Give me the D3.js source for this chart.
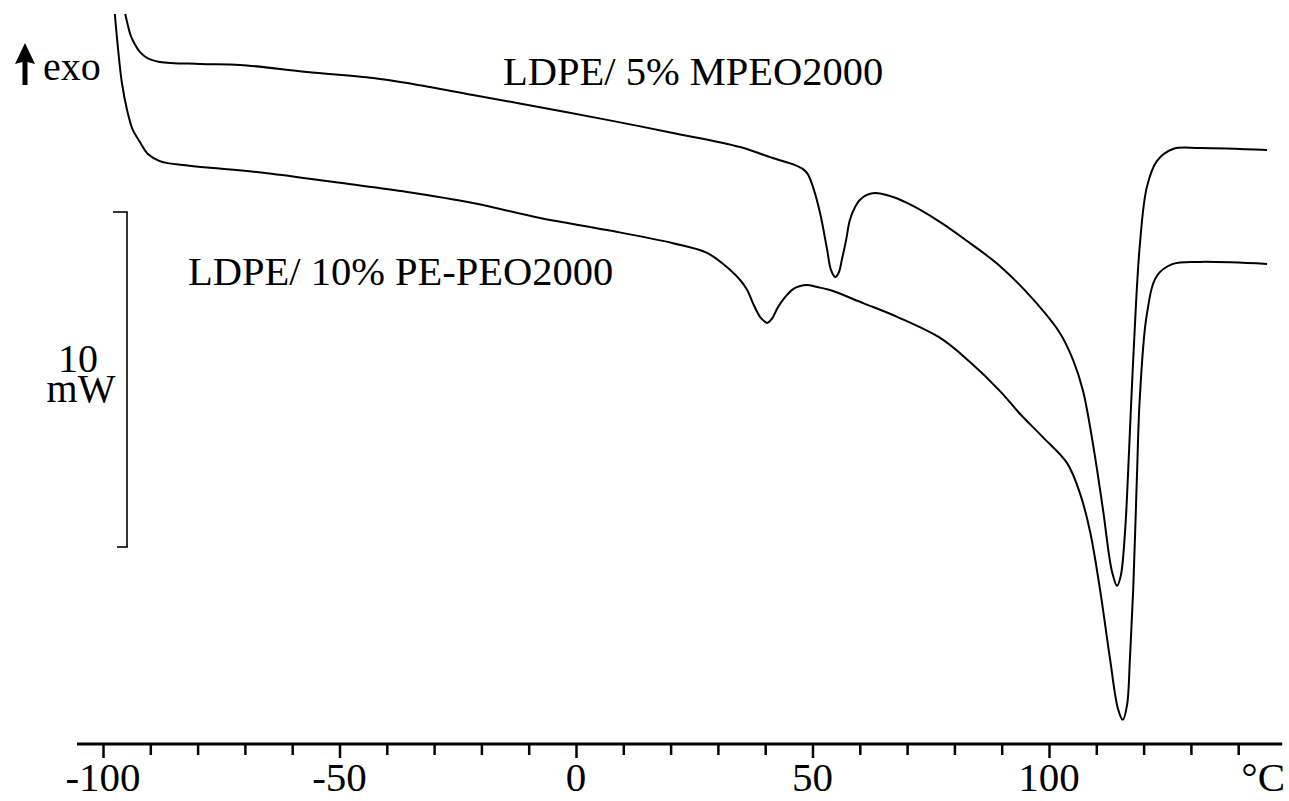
<!DOCTYPE html>
<html>
<head>
<meta charset="utf-8">
<script src="https://cdn.jsdelivr.net/npm/d3@7"></script>
<style>
  html, body { margin: 0; padding: 0; background: #fff; }
  svg { display: block; }
  text { font-family: "Liberation Serif", "Times New Roman", Times, serif; fill: #000; }
</style>
</head>
<body>
<svg id="chart" width="1289" height="801"></svg>
<script>
// ---- Data (temperature °C, heat flow mW, arbitrary offset) ----
const seriesNames = ["LDPE/ 5% MPEO2000", "LDPE/ 10% PE-PEO2000"];

const tempMPEO = [-95.3,-94.7,-94.1,-93.2,-92.2,-90.7,-88.0,-79.5,-71.0,-56.9,-42.9,-35.7,-21.8,-7.6,6.6,20.5,34.7,41.6,46.3,48.0,49.0,50.1,51.6,53.1,53.9,54.8,55.6,56.2,57.1,57.9,59.0,60.0,61.5,63.2,66.4,70.0,77.0,83.3,89.6,96.6,102.3,105.1,107.2,109.3,111.4,113.3,114.4,115.2,116.1,116.7,117.8,119.2,120.7,122.8,126.2,131.9,146.1];
const heatMPEO = [21.91,21.55,21.25,20.99,20.78,20.60,20.48,20.42,20.39,20.18,20.00,19.85,19.49,19.13,18.75,18.36,17.94,17.61,17.40,17.28,17.13,16.75,15.97,14.87,14.27,14.06,14.21,14.57,15.16,15.76,16.15,16.36,16.51,16.57,16.48,16.27,15.70,15.07,14.39,13.40,12.39,11.58,10.66,9.07,7.13,5.28,4.84,5.16,6.51,8.15,11.58,15.01,16.75,17.52,17.88,17.91,17.85];

const tempPEPEO = [-97.5,-96.8,-96.0,-94.9,-93.7,-92.2,-90.5,-88.0,-83.1,-65.3,-49.9,-35.7,-21.8,-7.6,6.6,20.5,27.7,32.6,34.7,36.2,37.4,38.9,40.0,40.4,41.4,42.7,44.2,45.9,47.4,48.8,51.0,53.7,60.7,67.9,77.0,83.3,89.6,93.9,98.7,103.8,106.6,108.7,110.8,112.9,114.6,115.6,116.5,117.1,117.8,118.6,119.2,120.7,122.8,126.2,131.9,146.1];
const heatPEPEO = [21.91,20.84,19.85,19.04,18.45,18.09,17.73,17.52,17.40,17.16,16.87,16.60,16.27,15.82,15.46,15.07,14.78,14.27,13.97,13.67,13.28,12.87,12.72,12.69,12.81,13.16,13.46,13.70,13.79,13.82,13.76,13.67,13.28,12.87,12.24,11.52,10.66,9.97,9.28,8.51,7.58,6.45,4.72,2.66,1.16,0.84,1.28,2.63,4.72,8.15,10.45,12.96,14.09,14.45,14.51,14.45];

const tickValues = d3.range(-100, 141, 10);
const tickLabels = ["-100", "-50", "0", "50", "100"];
const majorTicks = [-100, -50, 0, 50, 100];
const axisExtent = [-105.5, 149.3];
const scaleBar = [6, 16];          // 10 mW scale bar
const scaleBarLabel = ["10", "mW"];
const unitLabel = "°C";
const exoLabel = "exo";

// ---- Scales ----
const svg = d3.select("#chart");
const x = d3.scaleLinear().domain([-100, 100]).range([103, 1049]);
const y = d3.scaleLinear().domain([0, 22]).range([748, 748 - 22 * 33.5]);
const axisY = 744;

// ---- Curves ----
const line = d3.line()
  .x(d => x(d[0]))
  .y(d => y(d[1]))
  .curve(d3.curveCatmullRom.alpha(0.5));

const curves = [
  d3.zip(tempMPEO, heatMPEO),
  d3.zip(tempPEPEO, heatPEPEO)
];

svg.selectAll("path.curve")
  .data(curves)
  .enter().append("path")
  .attr("class", "curve")
  .attr("d", line)
  .attr("fill", "none")
  .attr("stroke", "#000")
  .attr("stroke-width", 2)
  .attr("stroke-linejoin", "round");

// ---- X axis ----
const gx = svg.append("g").attr("transform", `translate(0,${axisY})`);
gx.append("line")
  .attr("x1", x(axisExtent[0])).attr("x2", x(axisExtent[1]))
  .attr("y1", 0).attr("y2", 0)
  .attr("stroke", "#000").attr("stroke-width", 3);

const axis = d3.axisBottom(x).tickValues(tickValues).tickSize(12).tickFormat("");
const axG = gx.append("g").call(axis);
axG.select(".domain").remove();
axG.selectAll(".tick line")
  .attr("stroke", "#000")
  .attr("stroke-width", 2.5)
  .attr("y2", d => majorTicks.includes(d) ? 14 : 11);

gx.selectAll("text.tl")
  .data(majorTicks)
  .enter().append("text")
  .attr("class", "tl")
  .attr("text-anchor", "middle")
  .attr("x", d => x(d))
  .attr("y", 47)
  .attr("font-size", 41)
  .text((d, i) => tickLabels[i]);

gx.append("text")
  .attr("text-anchor", "end")
  .attr("x", 1285)
  .attr("y", 47)
  .attr("font-size", 41)
  .text(unitLabel);

// ---- Scale bar (10 mW) ----
const sbX = 127;
const sb = svg.append("g").attr("stroke", "#000").attr("stroke-width", 1.6).attr("fill", "none");
sb.append("line").attr("x1", sbX).attr("x2", sbX).attr("y1", y(scaleBar[1])).attr("y2", y(scaleBar[0]));
sb.append("line").attr("x1", sbX - 14).attr("x2", sbX + 0.8).attr("y1", y(scaleBar[1])).attr("y2", y(scaleBar[1]));
sb.append("line").attr("x1", sbX - 10).attr("x2", sbX + 0.8).attr("y1", y(scaleBar[0])).attr("y2", y(scaleBar[0]));

const sbText = svg.append("text").attr("text-anchor", "middle").attr("font-size", 40);
sbText.append("tspan").attr("x", 78).attr("y", 372).text(scaleBarLabel[0]);
sbText.append("tspan").attr("x", 81).attr("y", 402).text(scaleBarLabel[1]);

// ---- Series labels ----
svg.append("text").attr("x", 503).attr("y", 85).attr("font-size", 40.5).text(seriesNames[0]);
svg.append("text").attr("x", 188).attr("y", 285).attr("font-size", 40.5).text(seriesNames[1]);

// ---- exo arrow ----
svg.append("path")
  .attr("d", "M25,43 L35,64 L27.5,62 L27.5,85 L22.5,85 L22.5,62 L15,64 Z")
  .attr("fill", "#000");
svg.append("text").attr("x", 43).attr("y", 80).attr("font-size", 40).text(exoLabel);
</script>
</body>
</html>
